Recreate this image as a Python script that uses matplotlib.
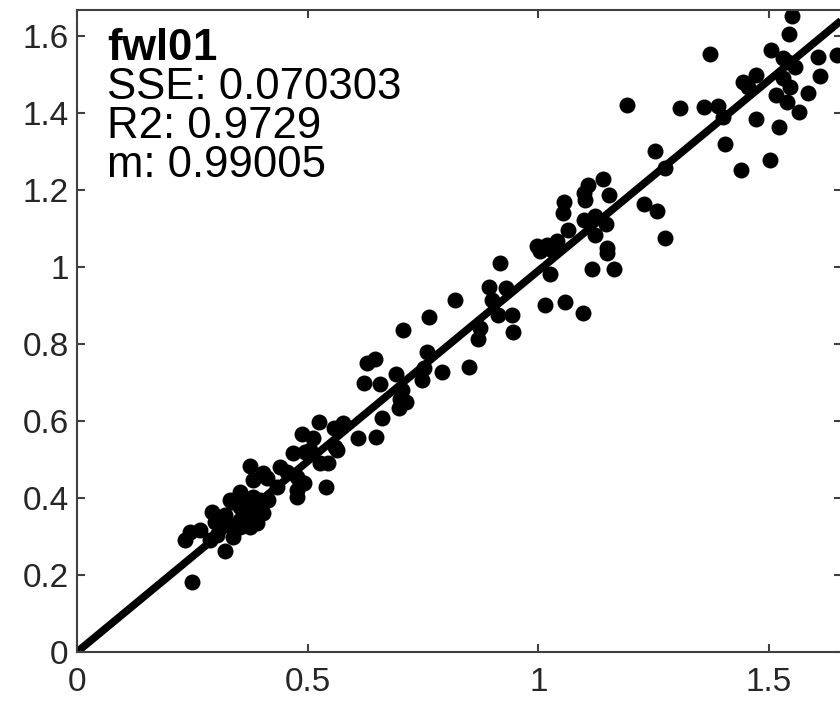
import matplotlib.pyplot as plt
import numpy as np

plt.rcParams['font.family'] = ['Liberation Sans', 'DejaVu Sans']
plt.rcParams['mathtext.fontset'] = 'custom'
plt.rcParams['mathtext.bf'] = 'Liberation Sans:bold'
plt.rcParams['mathtext.rm'] = 'Liberation Sans'

x_vals = [1.549, 1.544, 1.371, 1.504, 1.530, 1.541, 1.556, 1.606, 1.647, 1.611,
          1.472, 1.444, 1.455, 1.530, 1.546, 1.515, 1.538, 1.564, 1.585, 1.192,
          1.307, 1.358, 1.390, 1.401, 1.472, 1.522, 1.405, 1.439, 1.502, 1.253,
          1.275, 1.140, 1.108, 1.098, 1.101, 1.154, 1.056, 1.053, 1.229, 1.258,
          1.098, 1.123, 1.147, 1.065, 1.123, 1.275, 0.997, 1.018, 1.040, 1.148,
          1.004, 1.029, 1.148, 0.917, 1.116, 1.164, 1.025, 0.892, 0.930, 0.819,
          0.899, 0.762, 0.913, 0.942, 1.015, 1.058, 1.096, 0.874, 0.870, 0.944,
          0.758, 0.751, 0.791, 0.850, 0.747, 0.706, 0.628, 0.646, 0.621, 0.657,
          0.692, 0.700, 0.713, 0.697, 0.525, 0.487, 0.512, 0.577, 0.556, 0.610,
          0.648, 0.661, 0.559, 0.469, 0.494, 0.527, 0.545, 0.540, 0.375, 0.404,
          0.440, 0.455, 0.476, 0.491, 0.476, 0.353, 0.382, 0.704, 0.476, 0.411,
          0.433, 0.335, 0.353, 0.375, 0.397, 0.415, 0.403, 0.390, 0.368, 0.353,
          0.338, 0.375, 0.292, 0.245, 0.267, 0.234, 0.299, 0.314, 0.321, 0.249,
          0.288, 0.303, 0.353, 0.397, 0.382, 0.368, 0.505, 0.563, 0.332, 0.339,
          0.321]
y_vals = [1.652, 1.604, 1.553, 1.562, 1.543, 1.532, 1.519, 1.545, 1.551, 1.496,
          1.499, 1.481, 1.468, 1.491, 1.468, 1.447, 1.429, 1.401, 1.452, 1.421,
          1.412, 1.415, 1.418, 1.390, 1.384, 1.362, 1.319, 1.252, 1.278, 1.301,
          1.256, 1.229, 1.213, 1.193, 1.174, 1.187, 1.168, 1.141, 1.164, 1.144,
          1.122, 1.131, 1.112, 1.096, 1.083, 1.075, 1.053, 1.057, 1.066, 1.049,
          1.040, 1.044, 1.036, 1.011, 0.994, 0.995, 0.982, 0.949, 0.945, 0.914,
          0.914, 0.871, 0.875, 0.875, 0.901, 0.908, 0.881, 0.841, 0.812, 0.832,
          0.780, 0.737, 0.728, 0.739, 0.706, 0.836, 0.750, 0.760, 0.699, 0.695,
          0.722, 0.656, 0.650, 0.633, 0.597, 0.565, 0.555, 0.594, 0.581, 0.555,
          0.559, 0.607, 0.533, 0.516, 0.519, 0.490, 0.490, 0.429, 0.483, 0.464,
          0.481, 0.468, 0.455, 0.438, 0.421, 0.416, 0.447, 0.681, 0.403, 0.451,
          0.429, 0.390, 0.377, 0.386, 0.395, 0.395, 0.361, 0.335, 0.351, 0.325,
          0.299, 0.325, 0.364, 0.312, 0.317, 0.291, 0.338, 0.343, 0.261, 0.183,
          0.291, 0.304, 0.343, 0.369, 0.403, 0.386, 0.525, 0.525, 0.395, 0.325,
          0.356]

slope = 0.99005
stats_title = 'fwl01'
stats_lines = ['SSE: 0.070303', 'R2: 0.9729', 'm: 0.99005']
x_ticks = [0, 0.5, 1, 1.5]
y_ticks = [0, 0.2, 0.4, 0.6, 0.8, 1, 1.2, 1.4, 1.6]

W, H = 840, 703
fig = plt.figure(figsize=(W / 100, H / 100), dpi=100)
ax = fig.add_axes([77 / W, 51 / H, (842 - 77) / W, (652 - 10) / H])

ax.plot(x_vals, y_vals, 'o', color='black', ms=11.5, mew=0)
xl = np.array([0, 2])
ax.plot(xl, slope * xl, color='black', lw=5.5, solid_capstyle='butt')

ax.set_xlim(0, 1.658)
ax.set_ylim(0, 1.667)
ax.set_xticks(x_ticks)
ax.set_xticklabels(['0', '0.5', '1', '1.5'])
ax.set_yticks(y_ticks)
ax.set_yticklabels(['0', '0.2', '0.4', '0.6', '0.8', '1', '1.2', '1.4', '1.6'])

axcol = '#404040'
for s in ax.spines.values():
    s.set_color(axcol)
    s.set_linewidth(1.5)
ax.tick_params(direction='in', length=6, width=1.5, color=axcol,
               labelsize=24, labelcolor='#262626', top=True, right=True)
ax.tick_params(axis='x', pad=11)
ax.tick_params(axis='y', pad=6)

# stats block as one text, bold title via mathtext (anchored on last baseline)
block = r'$\mathbf{' + stats_title + '}$\n' + '\n'.join(stats_lines)
ax.text(107 / W, 1 - 177 / H, block, transform=fig.transFigure, fontsize=31.5,
        va='baseline', ha='left', linespacing=0.94)

fig.savefig('out.png', dpi=100)
